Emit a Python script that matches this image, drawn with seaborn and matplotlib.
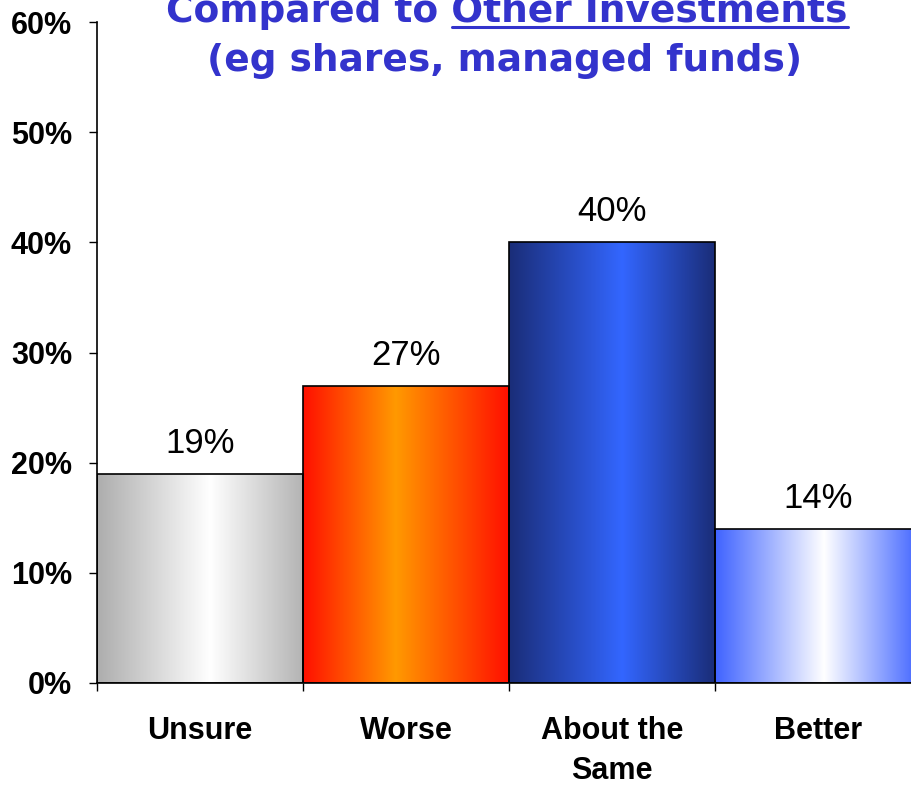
import numpy as np
import pandas as pd
import matplotlib
matplotlib.use("Agg")
import matplotlib.pyplot as plt
from matplotlib.colors import LinearSegmentedColormap
import seaborn as sns

categories = ["Unsure", "Worse", "About the\nSame", "Better"]
shares = [19, 27, 40, 14]
y_ticks = [0, 10, 20, 30, 40, 50, 60]

title_line1 = "Compared to Other Investments"
title_underlined = "Other Investments"
title_line2 = "(eg shares, managed funds)"

# horizontal gradient stops for each bar
gradients = [
    [(0.0, "#adadad"), (0.55, "#ffffff"), (1.0, "#b4b4b4")],
    [(0.0, "#ff1000"), (0.45, "#ff9900"), (1.0, "#ff1000")],
    [(0.0, "#1a2d78"), (0.55, "#3366ff"), (1.0, "#1a2d78")],
    [(0.0, "#3f63ff"), (0.53, "#ffffff"), (1.0, "#3f63ff")],
]

TITLE_BLUE = "#3333cc"


def plot_comparison():
    sns.set_style("ticks")
    plt.rcParams["font.family"] = ["Liberation Sans", "DejaVu Sans"]
    for key in ["text.color", "axes.labelcolor", "xtick.color", "ytick.color"]:
        plt.rcParams[key] = "black"

    df = pd.DataFrame({"category": categories, "share": shares})
    fig = plt.figure(figsize=(9.12, 7.85), dpi=100)
    ax = fig.add_axes([97 / 912, 102 / 785, 824 / 912, 661 / 785])

    sns.barplot(data=df, x="category", y="share", width=1.0, color="white",
                edgecolor="black", linewidth=1.2, ax=ax)

    # fill every bar with its gradient, clipped to the bar
    ramp = np.linspace(0, 1, 256).reshape(1, -1)
    for patch, stops in zip(ax.patches, gradients):
        patch.set_facecolor("none")
        patch.set_zorder(3)
        cmap = LinearSegmentedColormap.from_list("bar", stops)
        x0, y0 = patch.get_x(), patch.get_y()
        w, h = patch.get_width(), patch.get_height()
        img = ax.imshow(ramp, cmap=cmap, aspect="auto", interpolation="bilinear",
                        extent=[x0, x0 + w, y0, y0 + h], zorder=2)
        img.set_clip_path(patch)

    ax.bar_label(ax.containers[0], fmt="%.0f%%", padding=10, fontsize=25, color="black")

    ax.set_xlim(-0.5, 3.5)
    ax.set_ylim(0, 60)
    ax.set_yticks(y_ticks)
    ax.set_yticklabels([f"{t}%" for t in y_ticks], fontsize=22, fontweight="bold")
    ax.tick_params(axis="y", length=6, width=1, pad=12, color="black", labelcolor="black")
    ax.set_xticks(range(len(categories)))
    ax.set_xticklabels(categories, fontsize=22, fontweight="bold", linespacing=1.4)
    ax.tick_params(axis="x", which="major", length=0, pad=24, labelcolor="black")
    ax.set_xticks(np.arange(-0.5, len(categories), 1), minor=True)
    ax.tick_params(axis="x", which="minor", length=6, width=1, color="black")
    ax.set_xlabel("")
    ax.set_ylabel("")
    sns.despine(ax=ax)
    for side in ["left", "bottom"]:
        ax.spines[side].set_color("black")
        ax.spines[side].set_linewidth(1.2)
        ax.spines[side].set_zorder(4)

    title_kw = dict(ha="center", va="baseline", fontsize=27, fontweight="bold",
                    color=TITLE_BLUE, family=["DejaVu Sans"])
    t1 = fig.text(507 / 912, 1 - 22 / 785, title_line1, **title_kw)
    fig.text(505 / 912, 1 - 71 / 785, title_line2, **title_kw)

    # underline "Other Investments"
    fig.canvas.draw()
    renderer = fig.canvas.get_renderer()
    bb = t1.get_window_extent(renderer)
    probe = fig.text(0, 0, title_underlined, **title_kw)
    uw = probe.get_window_extent(renderer).width
    probe.remove()
    uy = (785 - 27) / 785
    fig.add_artist(plt.Line2D([(bb.x1 - uw) / 912, bb.x1 / 912], [uy, uy],
                              transform=fig.transFigure, color=TITLE_BLUE, linewidth=2.2))

    fig.savefig("out.png", dpi=100)


if __name__ == "__main__":
    plot_comparison()
